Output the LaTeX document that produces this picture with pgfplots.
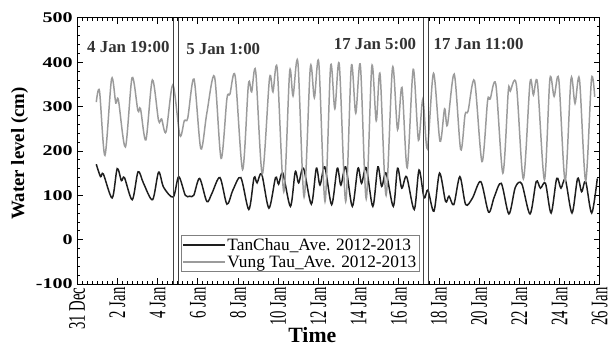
\documentclass[border=0pt]{standalone}
\usepackage{fontspec}
\setmainfont{Liberation Serif}
\newfontfamily\wideserif{Liberation Serif}[FakeStretch=1.35]
\newfontfamily\tallserif{Liberation Serif}[FakeStretch=0.62]
\usepackage{pgfplots}
\usepackage{pgfplotstable}
\pgfplotsset{compat=1.18}
\definecolor{vtgray}{RGB}{155,155,155}
\definecolor{tcblack}{RGB}{30,30,30}

\pgfplotstableread{
d v
0.95 310
1.11 335
1.38 190
1.71 362
1.92 308
2.05 315
2.40 209
2.73 365
3.02 291
3.15 295
3.42 225
3.74 360
4.05 268
4.20 272
4.42 243
4.76 349
5.11 235
5.33 268
5.50 274
5.81 362
6.15 205
6.45 285
6.83 368
7.16 183
7.45 318
7.60 328
7.86 369
8.23 158
8.52 350
8.68 333
8.88 380
9.21 148
9.57 364
9.74 333
9.95 386
10.28 108
10.57 378
10.74 324
10.98 400
11.29 96
11.60 388
11.80 320
12.02 399
12.33 86
12.61 391
12.82 295
13.04 395
13.36 86
13.64 391
13.86 285
14.09 393
14.38 92
14.66 391
14.88 268
15.07 373
15.37 100
15.69 388
15.94 248
16.16 343
16.42 162
16.72 384
16.98 224
17.20 317
17.42 205
17.73 375
18.05 222
18.28 295
18.42 258
18.76 373
19.08 203
19.30 282
19.45 290
19.77 358
20.14 176
20.42 313
20.55 317
20.83 350
21.18 150
21.45 335
21.55 335
21.85 350
22.20 137
22.53 354
22.70 326
22.90 354
23.25 135
23.52 362
23.73 323
23.96 362
24.28 132
24.57 362
24.77 307
24.99 362
25.30 133
25.59 362
25.75 322
}\vungtau

\pgfplotstableread{
d v
0.95 170
1.16 142
1.30 148
1.74 94
1.99 160
2.20 133
2.35 140
2.74 90
3.03 153
3.30 127
3.75 90
4.05 152
4.30 118
4.78 96
5.05 142
5.38 100
5.60 98
5.80 100
6.09 138
6.45 86
6.70 104
7.10 140
7.45 80
7.75 112
8.14 140
8.54 68
8.80 140
8.95 128
9.18 148
9.54 71
9.87 140
10.02 125
10.23 150
10.61 75
10.85 153
11.02 128
11.26 161
11.65 80
11.90 161
12.08 123
12.32 164
12.66 79
12.94 161
13.12 123
13.36 164
13.69 75
13.97 161
14.15 127
14.38 162
14.71 75
14.96 164
15.15 120
15.37 150
15.73 75
15.94 161
16.15 116
16.39 142
16.77 68
17.01 157
17.26 94
17.45 112
17.75 64
18.03 150
18.33 86
18.50 98
18.74 79
19.04 142
19.33 79
19.67 94
20.08 131
20.47 62
20.75 96
21.10 127
21.48 58
21.80 118
22.12 126
22.53 58
22.84 131
23.05 116
23.30 127
23.58 60
23.86 138
24.07 116
24.29 135
24.62 60
24.90 138
25.10 108
25.30 131
25.60 60
25.88 138
}\tanchau

\begin{document}
\begin{tikzpicture}
\begin{axis}[
  scale only axis,
  width=528bp, height=269bp,
  xmin=0, xmax=26, ymin=-100, ymax=500,
  xtick={0,2,...,26},
  xticklabels={31 Dec,2 Jan,4 Jan,6 Jan,8 Jan,10 Jan,12 Jan,14 Jan,16 Jan,18 Jan,20 Jan,22 Jan,24 Jan,26 Jan},
  ytick={-100,0,...,500},
  minor x tick num=7,
  minor y tick num=4,
  tick align=inside,
  major tick length=6bp,
  minor tick length=3bp,
  every tick/.style={black, line width=0.8bp},
  axis line style={black, line width=1bp},
  /pgf/number format/assume math mode=true,
  yticklabel style={font=\wideserif\bfseries\fontsize{15bp}{15bp}\selectfont, xshift=-1bp},
  xticklabel style={font=\tallserif\fontsize{24bp}{24bp}\selectfont, rotate=90, anchor=east, xshift=0bp},
  xlabel={Time},
  ylabel={Water level (cm)},
  xlabel style={font=\bfseries\fontsize{22bp}{22bp}\selectfont, at={(axis description cs:0.45,-0.19)}, anchor=center},
  ylabel style={font=\bfseries\fontsize{19bp}{19bp}\selectfont, at={(axis description cs:-0.11,0.49)}, anchor=center},
  legend style={at={(rel axis cs:0.199,0.045)}, anchor=south west, draw=black!50, line width=0.6bp,
    font=\fontsize{17.5bp}{18bp}\selectfont, inner sep=1bp, row sep=0bp,
    cells={anchor=west, text height=12bp, text depth=3.5bp}},
  legend image code/.code={\draw[#1] (0bp,0bp) -- (42bp,0bp);},
  clip=true,
]
\addplot[tcblack, line width=1.5bp, smooth] table[x=d, y=v] {\tanchau};
\addlegendentry{TanChau\_Ave. 2012-2013}
\addplot[vtgray, line width=1.5bp, smooth] table[x=d, y=v] {\vungtau};
\addlegendentry{Vung Tau\_Ave. 2012-2013}

\addplot[black!75, line width=1.1bp, forget plot] coordinates {(4.79,-100) (4.79,500)};
\addplot[black!75, line width=1.1bp, forget plot] coordinates {(5.04,-100) (5.04,500)};
\addplot[black!75, line width=1.1bp, forget plot] coordinates {(17.21,-100) (17.21,500)};
\addplot[black!75, line width=1.1bp, forget plot] coordinates {(17.46,-100) (17.46,500)};

\node[anchor=west, font=\bfseries\fontsize{17bp}{17bp}\selectfont, text=black!80, inner sep=0pt] at (axis cs:0.49,435) {4 Jan 19:00};
\node[anchor=west, font=\bfseries\fontsize{17bp}{17bp}\selectfont, text=black!80, inner sep=0pt] at (axis cs:5.42,429) {5 Jan 1:00};
\node[anchor=west, font=\bfseries\fontsize{17bp}{17bp}\selectfont, text=black!80, inner sep=0pt] at (axis cs:12.76,442) {17 Jan 5:00};
\node[anchor=west, font=\bfseries\fontsize{17bp}{17bp}\selectfont, text=black!80, inner sep=0pt] at (axis cs:17.73,442) {17 Jan 11:00};
\end{axis}
\path[use as bounding box] ([xshift=-78bp,yshift=-60bp]current axis.south west) rectangle ([xshift=5bp,yshift=18bp]current axis.north east);
\end{tikzpicture}
\end{document}
